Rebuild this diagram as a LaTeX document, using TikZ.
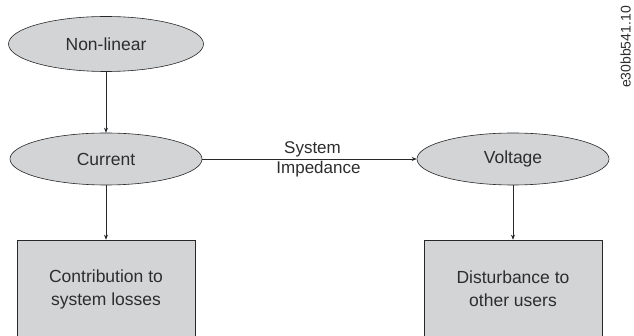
\documentclass[tikz,border=0pt]{standalone}
\usepackage{fontspec}
\setmainfont{Liberation Sans}
\usetikzlibrary{shapes.geometric,arrows.meta}
\definecolor{boxgray}{RGB}{211,212,214}
\definecolor{linegray}{RGB}{40,40,40}
\definecolor{textgray}{RGB}{45,45,45}
\tikzset{
  ellnode/.style={ellipse, draw=linegray, fill=boxgray, line width=0.6pt, inner sep=0pt,
    text=textgray, font=\fontsize{17.5}{20}\selectfont},
  boxnode/.style={rectangle, draw=linegray, fill=boxgray, line width=0.6pt, inner sep=0pt,
    align=center, text=textgray, font=\fontsize{17.5}{23}\selectfont},
  conn/.style={draw=linegray, line width=0.6pt, -{Stealth[length=5pt,width=4pt]}},
}
\begin{document}
\begin{tikzpicture}[x=1pt,y=-1pt]
\useasboundingbox (0,0) rectangle (634,336);
\clip (0,0) rectangle (634,336);
\node[ellnode, minimum width=195pt, minimum height=55pt] (nl) at (106,44) {Non-linear};
\node[ellnode, minimum width=192pt, minimum height=52pt] (cur) at (106,159) {Current};
\node[ellnode, minimum width=192pt, minimum height=52pt] (vol) at (513,159) {Voltage};
\node[boxnode, minimum width=178pt, minimum height=98pt] (loss) at (106,289) {Contribution to\\system losses};
\node[boxnode, minimum width=178pt, minimum height=98pt] (dist) at (513,289) {Disturbance to\\other users};
\draw[conn] (nl) -- (cur);
\draw[conn] (cur) -- (loss);
\draw[conn] (vol) -- (dist);
\draw[conn] (cur) -- node[text=textgray, font=\fontsize{17}{20}\selectfont, align=center, xshift=3pt, inner sep=0pt] {System\\\hspace*{12pt}Impedance} (vol);
\node[rotate=90, text=textgray, font=\fontsize{14}{16}\selectfont, anchor=south east, inner sep=0pt] (code) at (631,6) {e30bb541.10};
\end{tikzpicture}
\end{document}
